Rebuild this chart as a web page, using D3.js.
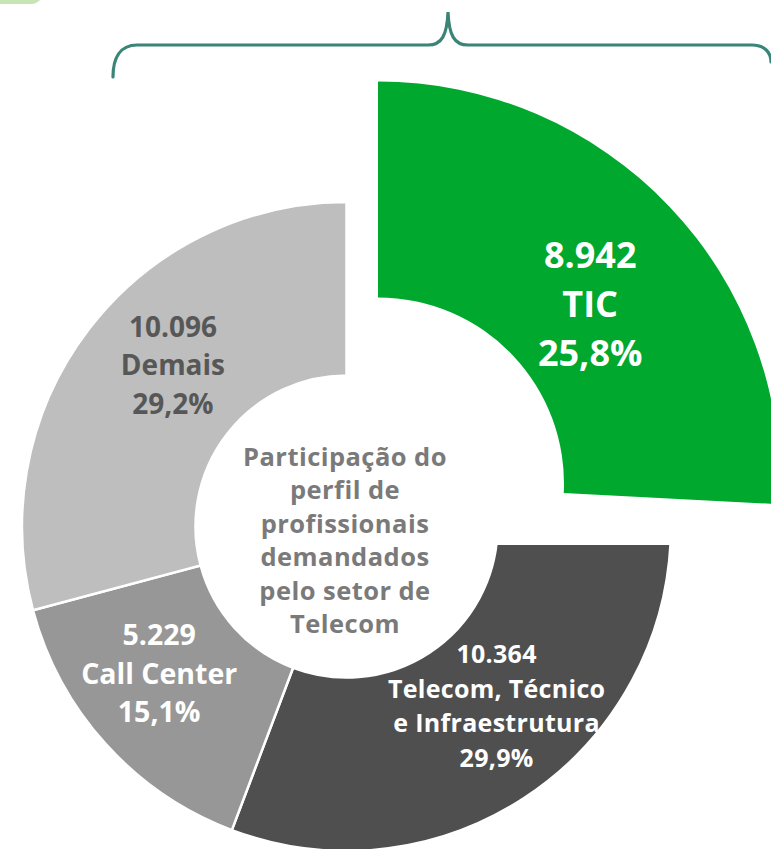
<!DOCTYPE html>
<html>
<head>
<meta charset="utf-8">
<script src="https://cdn.jsdelivr.net/npm/d3@7"></script>
<style>
  html, body { margin: 0; padding: 0; background: #ffffff; }
  svg { display: block; }
</style>
</head>
<body>
<svg id="chart" width="771" height="849"></svg>
<script>
// ---- data ----
const categories = ["TIC", "Telecom, Técnico e Infraestrutura", "Call Center", "Demais"];
const values = [8942, 10364, 5229, 10096];
const valueLabels = ["8.942", "10.364", "5.229", "10.096"];
const percentLabels = ["25,8%", "29,9%", "15,1%", "29,2%"];
const nameLines = [["TIC"], ["Telecom, Técnico", "e Infraestrutura"], ["Call Center"], ["Demais"]];
const centerTitle = ["Participação do", "perfil de", "profissionais", "demandados", "pelo setor de", "Telecom"];

// ---- layout / style ----
const W = 771, H = 849;
const donut = { cx: 346.5, cy: 526.5, r0: 151, r1: 324.5 };
const highlight = { cx: 378, cy: 483.5, r0: 186, r1: 402 };
const colors = ["#00A82D", "#4F4F4F", "#979797", "#BEBEBE"];
const labelColors = ["#ffffff", "#ffffff", "#ffffff", "#575757"];
const labelSize = [36, 25, 28.5, 28];
const labelSpacing = [0, 0.3, 0, 0];
const lineGap = [49, 34.5, 38.5, 38.5];
const labelNudge = [[-1, 23], [20, -19], [-11, -12], [15, -16]];
const FONT = "'Open Sans', Lato, sans-serif";

const svg = d3.select("#chart");

const rows = categories.map((c, i) => ({
  name: c, value: values[i], valueLabel: valueLabels[i], pct: percentLabels[i],
  lines: nameLines[i], i
}));

const pie = d3.pie().value(d => d.value).sort(null).startAngle(0).endAngle(2 * Math.PI);
const arcs = pie(rows);

// decorative top-left tab
svg.append("rect").attr("x", -30).attr("y", -20).attr("width", 73).attr("height", 24)
  .attr("rx", 12).attr("fill", "#C6E4B4");

// gray donut (all but the highlighted slice)
const arcGray = d3.arc().innerRadius(donut.r0).outerRadius(donut.r1);
const gGray = svg.append("g").attr("transform", `translate(${donut.cx},${donut.cy})`);
gGray.selectAll("path").data(arcs.filter(a => a.data.i !== 0)).join("path")
  .attr("d", arcGray)
  .attr("fill", a => colors[a.data.i])
  .attr("stroke", "#ffffff").attr("stroke-width", 2.5).attr("stroke-linejoin", "miter");

// white mask region where the highlighted slice is pulled out
svg.append("rect").attr("x", donut.cx + 0.5).attr("y", 0)
  .attr("width", W - donut.cx).attr("height", 545).attr("fill", "#ffffff");

// brace
svg.append("path")
  .attr("d", "M113,77 C113,58 120,45 137,45 L428,45 C442,45 447,35 448,12 C449,35 454,45 468,45 L752,45 C764,45 771,52 771,62")
  .attr("fill", "none").attr("stroke", "#3A8478").attr("stroke-width", 3.2).attr("stroke-linecap", "round");

// highlighted (exploded, enlarged) slice
const arcHi = d3.arc().innerRadius(highlight.r0).outerRadius(highlight.r1);
const gHi = svg.append("g").attr("transform", `translate(${highlight.cx},${highlight.cy})`);
gHi.selectAll("path").data(arcs.filter(a => a.data.i === 0)).join("path")
  .attr("d", arcHi)
  .attr("fill", a => colors[a.data.i]);

// labels
arcs.forEach(a => {
  const i = a.data.i;
  const geo = i === 0 ? highlight : donut;
  const gen = i === 0 ? arcHi : arcGray;
  const [x0, y0] = gen.centroid(a);
  const x = geo.cx + x0 + labelNudge[i][0];
  const y = geo.cy + y0 + labelNudge[i][1];
  const lines = [a.data.valueLabel, ...a.data.lines, a.data.pct];
  const n = lines.length;
  const t = svg.append("text")
    .attr("x", x).attr("y", y)
    .attr("text-anchor", "middle")
    .attr("font-family", FONT)
    .attr("font-weight", 700)
    .attr("font-size", labelSize[i])
    .attr("letter-spacing", labelSpacing[i])
    .attr("fill", labelColors[i]);
  lines.forEach((ln, k) => {
    t.append("tspan").attr("x", x)
      .attr("y", y + (k - (n - 1) / 2) * lineGap[i])
      .attr("dy", "0.35em")
      .text(ln);
  });
});

// center title
const ct = svg.append("text")
  .attr("text-anchor", "middle")
  .attr("font-family", FONT)
  .attr("font-weight", 700)
  .attr("font-size", 25.5)
  .attr("letter-spacing", 0.45)
  .attr("fill", "#7A7A7A");
centerTitle.forEach((ln, k) => {
  ct.append("tspan").attr("x", 345)
    .attr("y", 457 + k * 33.4)
    .attr("dy", "0.35em")
    .text(ln);
});
</script>
</body>
</html>
